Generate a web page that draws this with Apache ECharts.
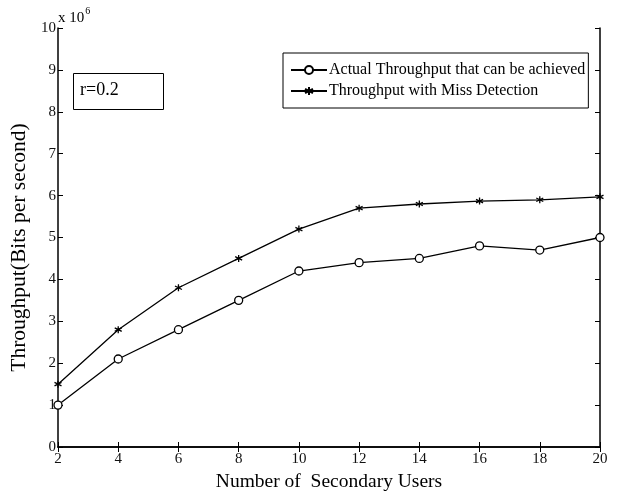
<!DOCTYPE html>
<html>
<head>
<meta charset="utf-8">
<script src="https://cdn.jsdelivr.net/npm/echarts@6/dist/echarts.min.js"></script>
<style>
  html, body { margin: 0; padding: 0; background: #fff; }
  #chart { width: 620px; height: 493px; }
</style>
</head>
<body>
<div id="chart"></div>
<script>
// data (y in units of 10^6 bits/s)
var users = [2, 4, 6, 8, 10, 12, 14, 16, 18, 20];
var actualThroughput = [1.0, 2.1, 2.8, 3.5, 4.2, 4.4, 4.5, 4.8, 4.7, 5.0];
var missDetection = [1.5, 2.8, 3.8, 4.5, 5.2, 5.7, 5.8, 5.87, 5.9, 5.97];
var seriesNames = ['Actual Throughput that can be achieved', 'Throughput with Miss Detection'];

var font = 'Liberation Serif';
var asterisk = 'path://M0,-5L0,5M-4.33,-2.5L4.33,2.5M-4.33,2.5L4.33,-2.5';

function pairs(ys) {
    return users.map(function (x, i) { return [x, ys[i]]; });
}

var myChart = echarts.init(document.getElementById('chart'));

var boxAxis = {
    axisLine: { show: true, lineStyle: { color: '#000', width: 1.5 } },
    axisTick: { show: true, inside: true, length: 5, lineStyle: { color: '#000' } },
    splitLine: { show: false }
};

var option = {
    backgroundColor: '#fff',
    animation: false,
    grid: { left: 58, right: 20, top: 28, bottom: 46, outerBoundsMode: 'none' },
    xAxis: [
        Object.assign({}, boxAxis, {
            type: 'value', min: 2, max: 20, interval: 2,
            name: 'Number of  Secondary Users',
            nameLocation: 'middle', nameGap: 22,
            nameTextStyle: { fontFamily: font, fontSize: 19.5, color: '#000' },
            axisLabel: { fontFamily: font, fontSize: 15, color: '#111', margin: 5 }
        }),
        Object.assign({}, boxAxis, {
            type: 'value', min: 2, max: 20, interval: 2, position: 'top',
            axisLabel: { show: false }
        })
    ],
    yAxis: [
        Object.assign({}, boxAxis, {
            type: 'value', min: 0, max: 10, interval: 1,
            name: 'Throughput(Bits per second)',
            nameLocation: 'middle', nameGap: 25,
            nameTextStyle: { fontFamily: font, fontSize: 21.5, color: '#000', padding: [0, 20, 0, 0] },
            axisLabel: { fontFamily: font, fontSize: 15, color: '#111', margin: 2 }
        }),
        Object.assign({}, boxAxis, {
            type: 'value', min: 0, max: 10, interval: 1, position: 'right',
            axisLabel: { show: false }
        })
    ],
    legend: {
        orient: 'vertical',
        left: 283, top: 53,
        itemWidth: 36, itemHeight: 10, itemGap: 5,
        padding: [9, 3, 9, 7],
        borderColor: '#000', borderWidth: 1,
        backgroundColor: '#fff',
        selectedMode: false,
        textStyle: { fontFamily: font, fontSize: 16, color: '#000', padding: [0, 0, 0, -3] },
        data: seriesNames
    },
    graphic: [
        {
            type: 'text', left: 58, top: 6,
            style: {
                text: '{b|x 10}{s|6}',
                rich: {
                    b: { fontFamily: font, fontSize: 15, fill: '#000', verticalAlign: 'bottom' },
                    s: { fontFamily: font, fontSize: 10, fill: '#000', verticalAlign: 'top', padding: [0, 0, 10, 1] }
                }
            }
        },
        {
            type: 'rect', left: 73, top: 73,
            shape: { width: 90, height: 36 },
            style: { fill: '#fff', stroke: '#000', lineWidth: 1 }
        },
        {
            type: 'text', left: 80, top: 81,
            style: { text: 'r=0.2', fontFamily: font, fontSize: 18, fill: '#000' }
        }
    ],
    series: [
        {
            name: seriesNames[0],
            type: 'line',
            data: pairs(actualThroughput),
            symbol: 'circle', symbolSize: 8,
            lineStyle: { color: '#000', width: 1.3 },
            itemStyle: { color: '#fff', borderColor: '#000', borderWidth: 1.3 },
            z: 3
        },
        {
            name: seriesNames[1],
            type: 'line',
            data: pairs(missDetection),
            symbol: asterisk, symbolSize: 7,
            lineStyle: { color: '#000', width: 1.3 },
            itemStyle: { color: '#000', borderColor: '#000', borderWidth: 1.3 },
            z: 3
        }
    ]
};

myChart.setOption(option);
</script>
</body>
</html>
